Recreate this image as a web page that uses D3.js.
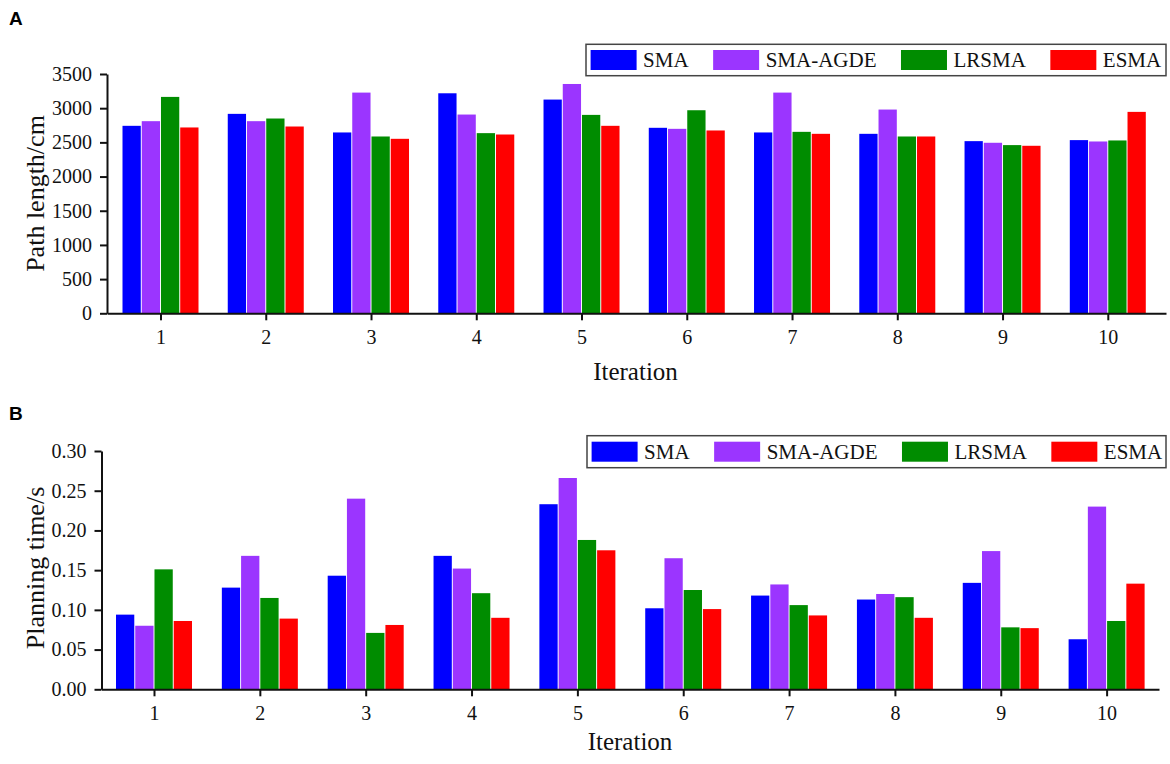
<!DOCTYPE html>
<html>
<head>
<meta charset="utf-8">
<script src="https://cdn.jsdelivr.net/npm/d3@7"></script>
<style>
  html, body { margin: 0; padding: 0; background: #fff; }
  svg { display: block; }
</style>
</head>
<body>
<svg id="chart" width="1170" height="764"></svg>
<script>
// ---------------- DATA ----------------
const iterations = [1, 2, 3, 4, 5, 6, 7, 8, 9, 10];
const seriesNames = ["SMA", "SMA-AGDE", "LRSMA", "ESMA"];

// Panel A: path length (cm)
const pathSMA     = [2742, 2917, 2645, 3218, 3126, 2713, 2645, 2625, 2518, 2533];
const pathSMAAGDE = [2810, 2810, 3228, 2907, 3354, 2698, 3228, 2980, 2494, 2513];
const pathLRSMA   = [3165, 2849, 2586, 2635, 2902, 2970, 2654, 2586, 2460, 2528];
const pathESMA    = [2718, 2732, 2552, 2615, 2742, 2674, 2625, 2586, 2450, 2946];

// Panel B: planning time (s)
const timeSMA     = [0.094, 0.128, 0.143, 0.168, 0.233, 0.102, 0.118, 0.113, 0.134, 0.063];
const timeSMAAGDE = [0.080, 0.168, 0.240, 0.152, 0.266, 0.165, 0.132, 0.120, 0.174, 0.230];
const timeLRSMA   = [0.151, 0.115, 0.071, 0.121, 0.188, 0.125, 0.106, 0.116, 0.078, 0.086];
const timeESMA    = [0.086, 0.089, 0.081, 0.090, 0.175, 0.101, 0.093, 0.090, 0.077, 0.133];

const pathTicks = [0, 500, 1000, 1500, 2000, 2500, 3000, 3500];
const timeTicks = [0.00, 0.05, 0.10, 0.15, 0.20, 0.25, 0.30];

const colors = ["#0000FF", "#9B35FF", "#008C00", "#FF0000"];

// ---------------- DRAW ----------------
const SERIF = "'Liberation Serif', 'Times New Roman', serif";
const svg = d3.select("#chart");
const color = d3.scaleOrdinal().domain(seriesNames).range(colors);

function drawPanel(cfg) {
  const g = svg.append("g");
  const x = d3.scaleLinear().domain(cfg.xDomain).range(cfg.xRange);
  const y = d3.scaleLinear().domain(cfg.yDomain).range(cfg.yRange);
  const inner = d3.scaleBand().domain(seriesNames).range([-38, 38]).paddingInner(0.05);

  // bars
  const rows = iterations.map((it, i) => ({ it, vals: cfg.series.map((s, k) => ({ name: seriesNames[k], v: s[i] })) }));
  const grp = g.selectAll("g.grp").data(rows).join("g")
    .attr("transform", d => `translate(${x(d.it)},0)`);
  grp.selectAll("rect").data(d => d.vals).join("rect")
    .attr("x", d => inner(d.name))
    .attr("width", inner.bandwidth())
    .attr("y", d => y(d.v))
    .attr("height", d => y(cfg.yDomain[0]) - y(d.v))
    .attr("fill", d => color(d.name));

  // x axis
  const xAxis = g.append("g")
    .attr("transform", `translate(0,${cfg.yRange[0]})`)
    .call(d3.axisBottom(x).tickValues(iterations).tickSizeOuter(0).tickSizeInner(7).tickPadding(10).tickFormat(d3.format("d")));
  // y axis
  const yAxis = g.append("g")
    .attr("transform", `translate(${cfg.xRange[0]},0)`)
    .call(d3.axisLeft(y).tickValues(cfg.yTicks).tickSizeOuter(0).tickSizeInner(7).tickPadding(8).tickFormat(cfg.yFormat));

  [xAxis, yAxis].forEach(a => {
    a.attr("font-family", SERIF).attr("font-size", 20);
    a.select(".domain").attr("stroke", "#111").attr("stroke-width", 2);
    a.selectAll(".tick line").attr("stroke", "#111").attr("stroke-width", 2);
    a.selectAll(".tick text").attr("font-family", SERIF).attr("font-size", 20).attr("fill", "#111");
  });
  xAxis.selectAll(".tick text").attr("dy", "0.71em");

  // axis titles
  g.append("text").attr("font-family", SERIF)
    .attr("x", cfg.xTitlePos[0]).attr("y", cfg.xTitlePos[1])
    .attr("text-anchor", "middle").attr("font-size", 25).attr("fill", "#111")
    .text("Iteration");
  g.append("text").attr("font-family", SERIF)
    .attr("transform", `translate(${cfg.yTitlePos[0]},${cfg.yTitlePos[1]}) rotate(-90)`)
    .attr("text-anchor", "middle").attr("font-size", 26).attr("fill", "#111")
    .text(cfg.yTitle);

  // panel letter
  g.append("text")
    .attr("x", 9).attr("y", cfg.letterY)
    .attr("font-family", "'Liberation Sans', Arial, sans-serif")
    .attr("font-weight", "bold").attr("font-size", 19).attr("fill", "#000")
    .text(cfg.letter);

  // legend
  const lg = g.append("g");
  const box = cfg.legendBox; // [x0, y0, x1, y1]
  lg.append("rect")
    .attr("x", box[0]).attr("y", box[1])
    .attr("width", box[2] - box[0]).attr("height", box[3] - box[1])
    .attr("fill", "#fff").attr("stroke", "#444").attr("stroke-width", 1.5);
  let cx = box[0] + 4.6;
  const midY = (box[1] + box[3]) / 2;
  seriesNames.forEach(name => {
    lg.append("rect")
      .attr("x", cx).attr("y", midY - 10)
      .attr("width", 46).attr("height", 20)
      .attr("fill", color(name));
    const t = lg.append("text").attr("font-family", SERIF)
      .attr("x", cx + 52.5).attr("y", midY + 7)
      .attr("font-size", 21).attr("fill", "#111")
      .text(name);
    cx = cx + 52.5 + t.node().getComputedTextLength() + 24.5;
  });
}

drawPanel({
  series: [pathSMA, pathSMAAGDE, pathLRSMA, pathESMA],
  xDomain: [0.4917, 10.553], xRange: [107, 1166],
  yDomain: [0, 3500], yRange: [313.3, 74],
  yTicks: pathTicks, yFormat: d3.format("d"),
  yTitle: "Path length/cm",
  xTitlePos: [635.5, 380], yTitlePos: [44, 193.5],
  letter: "A", letterY: 25,
  legendBox: [586, 44.3, 1166, 75.7]
});

drawPanel({
  series: [timeSMA, timeSMAAGDE, timeLRSMA, timeESMA],
  xDomain: [0.504, 10.495], xRange: [101.5, 1159],
  yDomain: [0, 0.30], yRange: [689.3, 451],
  yTicks: timeTicks, yFormat: d3.format(".2f"),
  yTitle: "Planning time/s",
  xTitlePos: [630, 750], yTitlePos: [44, 568],
  letter: "B", letterY: 420,
  legendBox: [587, 435.7, 1166, 467.7]
});
</script>
</body>
</html>
